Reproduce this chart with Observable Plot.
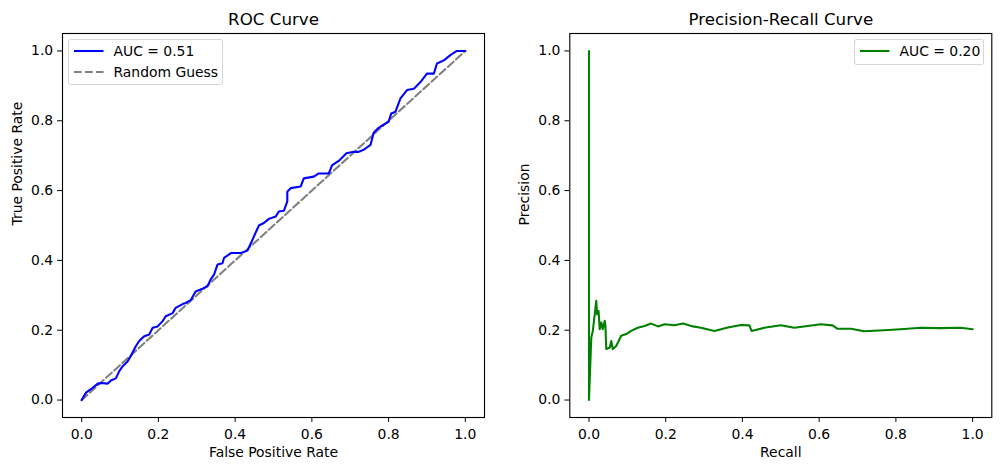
<!DOCTYPE html>
<html><head><meta charset="utf-8">
<script src="https://cdn.jsdelivr.net/npm/d3@7"></script>
<script src="https://cdn.jsdelivr.net/npm/@observablehq/plot@0.6"></script>
<style>
body{margin:0;background:#fff;font-family:"DejaVu Sans",sans-serif;}
#wrap{position:relative;width:1001px;height:470px;overflow:hidden;background:#fff;}
.panel{position:absolute;top:0;}
.legend{position:absolute;background:rgba(255,255,255,0.8);border:1px solid rgba(204,204,204,0.8);border-radius:3px;box-sizing:border-box;font-size:13.9px;color:#000;font-family:"DejaVu Sans",sans-serif;}
.legend svg{position:absolute;}
.legend span{position:absolute;line-height:16px;white-space:nowrap;}
</style></head>
<body>
<div id="wrap"></div>
<script>
// ---- data ----
const rocFpr = [0,0.011,0.024,0.042,0.050,0.068,0.076,0.089,0.098,0.107,0.120,0.128,0.141,0.150,0.163,0.176,0.185,0.198,0.211,0.219,0.237,0.245,0.263,0.271,0.284,0.297,0.315,0.328,0.336,0.345,0.354,0.367,0.371,0.389,0.415,0.432,0.441,0.449,0.462,0.475,0.488,0.506,0.514,0.527,0.536,0.536,0.545,0.571,0.579,0.605,0.618,0.644,0.653,0.670,0.690,0.709,0.722,0.735,0.753,0.761,0.774,0.787,0.800,0.807,0.818,0.831,0.848,0.866,0.883,0.900,0.918,0.926,0.944,0.961,0.978,1.0];
const rocTpr = [0,0.021,0.031,0.047,0.049,0.047,0.056,0.062,0.083,0.097,0.111,0.126,0.154,0.169,0.183,0.188,0.207,0.211,0.226,0.240,0.249,0.264,0.275,0.278,0.286,0.311,0.319,0.326,0.345,0.359,0.388,0.392,0.407,0.421,0.421,0.428,0.449,0.469,0.500,0.507,0.519,0.526,0.540,0.542,0.569,0.597,0.607,0.612,0.635,0.640,0.649,0.649,0.673,0.685,0.707,0.711,0.711,0.717,0.731,0.766,0.780,0.789,0.797,0.821,0.826,0.864,0.888,0.892,0.911,0.935,0.935,0.964,0.973,0.988,1.0,1.0];
const diagX = [0,1];
const diagY = [0,1];
const prRecall = [0,0,0.006,0.010,0.019,0.021,0.025,0.028,0.032,0.036,0.041,0.043,0.045,0.054,0.058,0.062,0.071,0.084,0.097,0.110,0.127,0.145,0.162,0.180,0.197,0.223,0.245,0.271,0.292,0.327,0.362,0.396,0.418,0.424,0.457,0.500,0.535,0.570,0.604,0.635,0.648,0.683,0.717,0.769,0.813,0.865,0.917,0.969,1.0];
const prPrecision = [1,0,0.179,0.198,0.284,0.246,0.255,0.203,0.222,0.203,0.227,0.212,0.146,0.150,0.169,0.146,0.155,0.184,0.189,0.198,0.207,0.212,0.219,0.211,0.217,0.214,0.219,0.211,0.207,0.198,0.208,0.215,0.214,0.198,0.207,0.214,0.207,0.212,0.217,0.214,0.204,0.204,0.197,0.200,0.203,0.207,0.206,0.207,0.203];
const tickValues = [0,0.2,0.4,0.6,0.8,1.0];
const rocTitle = "ROC Curve";
const prTitle = "Precision-Recall Curve";
const rocXLabel = "False Positive Rate";
const rocYLabel = "True Positive Rate";
const prXLabel = "Recall";
const prYLabel = "Precision";
const rocLegend = ["AUC = 0.51", "Random Guess"];
const prLegend = ["AUC = 0.20"];

const roc = rocFpr.map((x, i) => ({x, y: rocTpr[i]}));
const diag = diagX.map((x, i) => ({x, y: diagY[i]}));
const pr = prRecall.map((x, i) => ({x, y: prPrecision[i]}));

const fmt = d3.format(".1f");
function panel({width, marginLeft, marginRight, title, xLabel, yLabel, lines}) {
  return Plot.plot({
    width, height: 470,
    marginLeft, marginRight, marginTop: 33, marginBottom: 53,
    style: {fontFamily: "DejaVu Sans", fontSize: "13.9px", color: "#000", background: "transparent", overflow: "visible"},
    x: {domain: [-0.05, 1.05], ticks: tickValues, tickFormat: fmt, tickSize: 4.86, tickPadding: 6.5, label: null},
    y: {domain: [-0.05, 1.05], ticks: tickValues, tickFormat: fmt, tickSize: 4.86, tickPadding: 4.5, label: null},
    marks: [
      ...lines,
      Plot.frame({stroke: "black", strokeWidth: 1.11}),
      Plot.text([title], {text: d => d, frameAnchor: "top", dy: -14, lineAnchor: "middle", fontSize: 16.7}),
      Plot.text([xLabel], {text: d => d, frameAnchor: "bottom", dy: 35, lineAnchor: "middle", fontSize: 13.9}),
      Plot.text([yLabel], {text: d => d, frameAnchor: "left", dx: -45, rotate: -90, lineAnchor: "middle", fontSize: 13.9})
    ]
  });
}

const wrap = document.getElementById("wrap");

const left = panel({
  width: 500, marginLeft: 62, marginRight: 16,
  title: rocTitle, xLabel: rocXLabel, yLabel: rocYLabel,
  lines: [
    Plot.line(diag, {x: "x", y: "y", stroke: "#808080", strokeWidth: 2.08, strokeDasharray: "7.7,3.3"}),
    Plot.line(roc, {x: "x", y: "y", stroke: "#0000ff", strokeWidth: 2.08, strokeLinejoin: "miter"})
  ]
});
const right = panel({
  width: 501, marginLeft: 69.3, marginRight: 9.7,
  title: prTitle, xLabel: prXLabel, yLabel: prYLabel,
  lines: [
    Plot.line(pr, {x: "x", y: "y", stroke: "#008000", strokeWidth: 2.08})
  ]
});
const d1 = document.createElement("div"); d1.className = "panel"; d1.style.left = "0px"; d1.appendChild(left);
const d2 = document.createElement("div"); d2.className = "panel"; d2.style.left = "500px"; d2.appendChild(right);
wrap.appendChild(d1); wrap.appendChild(d2);

function legend({left, top, width, height, items}) {
  const box = document.createElement("div");
  box.className = "legend";
  Object.assign(box.style, {left: left + "px", top: top + "px", width: width + "px", height: height + "px"});
  items.forEach((it, i) => {
    const cy = 12 + i * 20.7;
    const svg = document.createElementNS("http://www.w3.org/2000/svg", "svg");
    svg.setAttribute("width", 30); svg.setAttribute("height", 6);
    svg.style.left = "4.5px"; svg.style.top = (cy - 4) + "px";
    const ln = document.createElementNS("http://www.w3.org/2000/svg", "line");
    ln.setAttribute("x1", 0); ln.setAttribute("x2", 29.5); ln.setAttribute("y1", 3); ln.setAttribute("y2", 3);
    ln.setAttribute("stroke", it.color); ln.setAttribute("stroke-width", 2.08);
    if (it.dash) ln.setAttribute("stroke-dasharray", it.dash);
    svg.appendChild(ln); box.appendChild(svg);
    const sp = document.createElement("span");
    sp.textContent = it.label;
    sp.style.left = "44.5px"; sp.style.top = (cy - 9) + "px";
    box.appendChild(sp);
  });
  wrap.appendChild(box);
}
legend({left: 68, top: 39, width: 154.5, height: 46, items: [
  {label: rocLegend[0], color: "#0000ff"},
  {label: rocLegend[1], color: "#808080", dash: "7.7,3.3"}
]});
legend({left: 854, top: 39, width: 130, height: 25.5, items: [
  {label: prLegend[0], color: "#008000"}
]});
</script>
</body></html>
